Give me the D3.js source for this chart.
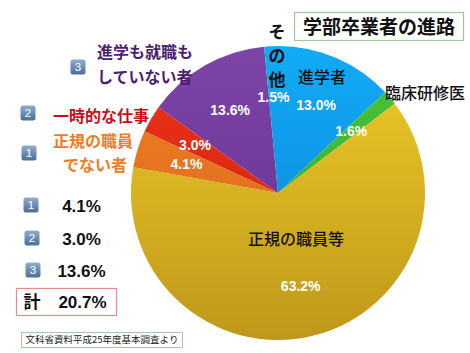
<!DOCTYPE html>
<html>
<head>
<meta charset="utf-8">
<script src="https://cdn.jsdelivr.net/npm/d3@7"></script>
<style>
  html, body { margin: 0; padding: 0; background: #fff; }
  svg { display: block; }
  .jp { font-family: "Noto Sans CJK JP", "Noto Sans", sans-serif; }
  .num { font-family: "Liberation Sans", Arial, sans-serif; font-weight: bold; }
</style>
</head>
<body>
<svg id="chart"></svg>
<script>
// slices clockwise from 12 o'clock
const categories = ["進学者", "臨床研修医", "正規の職員等", "正規の職員でない者", "一時的な仕事", "進学も就職もしていない者", "その他"];
const values = [13.0, 1.6, 63.2, 4.1, 3.0, 13.6, 1.5];
const percentLabels = ["13.0%", "1.6%", "63.2%", "4.1%", "3.0%", "13.6%", "1.5%"];
// light (top) / dark (bottom) tone per slice
const topColors = ["#12abf6", "#4cc63c", "#eecd28", "#ef8224", "#ee3416", "#7d45a8", "#12abf6"];
const bottomColors = ["#0a7ed6", "#2f9e2a", "#bf981a", "#d7621a", "#cc1e10", "#622c8e", "#0a7ed6"];

// breakdown list on the left
const listBadges = ["1", "2", "3"];
const listValues = ["4.1%", "3.0%", "13.6%"];
const totalLabel = "20.7%";

const width = 470, height = 353;
const cx = 278, cy = 193, radius = 147;

const svg = d3.select("#chart").attr("width", width).attr("height", height);
const defs = svg.append("defs");

// vertical shading, in the pie group's coordinates
topColors.forEach((c, i) => {
  const g = defs.append("linearGradient")
    .attr("id", "grad" + i)
    .attr("gradientUnits", "userSpaceOnUse")
    .attr("x1", 0).attr("y1", -radius)
    .attr("x2", 0).attr("y2", radius);
  g.append("stop").attr("offset", "0%").attr("stop-color", c);
  g.append("stop").attr("offset", "100%").attr("stop-color", bottomColors[i]);
});

const badgeGrad = defs.append("linearGradient").attr("id", "badgeGrad")
  .attr("x1", 0).attr("y1", 0).attr("x2", 0).attr("y2", 1);
badgeGrad.append("stop").attr("offset", "0%").attr("stop-color", "#8eaed0");
badgeGrad.append("stop").attr("offset", "100%").attr("stop-color", "#4b6e98");

const pie = d3.pie().value(d => d).sort(null);
const arc = d3.arc().innerRadius(0).outerRadius(radius);
const labelArc = d3.arc().innerRadius(96).outerRadius(96);

const g = svg.append("g").attr("transform", `translate(${cx},${cy})`);
const arcs = pie(values);

g.selectAll("path.slice")
  .data(arcs)
  .enter()
  .append("path")
  .attr("class", "slice")
  .attr("d", arc)
  .attr("fill", (d, i) => `url(#grad${i})`);

g.selectAll("text.pct")
  .data(arcs)
  .enter()
  .append("text")
  .attr("class", "num")
  .attr("x", d => labelArc.centroid(d)[0])
  .attr("y", d => labelArc.centroid(d)[1])
  .attr("dy", "0.35em")
  .attr("text-anchor", "middle")
  .attr("fill", "#fff")
  .style("font-size", "14px")
  .text((d, i) => percentLabels[i]);

// category names
const jpText = (x, y, txt, color, size, anchor, weight) =>
  svg.append("text")
    .attr("class", "jp")
    .attr("x", x).attr("y", y)
    .attr("dy", "0.35em")
    .attr("text-anchor", anchor || "start")
    .attr("fill", color)
    .style("font-size", size + "px")
    .style("font-weight", weight || "bold")
    .text(txt);

jpText(322, 77, "進学者", "#111", 16, "middle", 500);
jpText(385, 93, "臨床研修医", "#111", 16, "start", 500);
jpText(296, 239, "正規の職員等", "#111", 16, "middle", 500);
["そ", "の", "他"].forEach((c, i) => jpText(277, 32 + i * 24, c, "#111", 17, "middle", "bold"));

// title box
svg.append("rect").attr("x", 294.5).attr("y", 12.5).attr("width", 169).attr("height", 28)
  .attr("fill", "#fff").attr("stroke", "#a6c4a2").attr("stroke-width", 1.2);
jpText(379, 27, "学部卒業者の進路", "#111", 19, "middle", "bold");

// numbered badges
const badge = (x, y, n) => {
  svg.append("rect").attr("x", x - 7.5).attr("y", y - 7.5).attr("width", 15).attr("height", 15)
    .attr("rx", 2.5).attr("fill", "url(#badgeGrad)");
  svg.append("text").attr("class", "num").attr("x", x).attr("y", y).attr("dy", "0.36em")
    .attr("text-anchor", "middle").attr("fill", "#fff").style("font-size", "11.5px")
    .style("font-weight", "normal").text(n);
};

badge(78, 67, "3");
jpText(97, 52, "進学も就職も", "#4a1f6e", 16);
jpText(97, 77, "していない者", "#4a1f6e", 16);
badge(28, 113, "2");
jpText(53, 116, "一時的な仕事", "#c8101c", 16);
badge(29, 153, "1");
jpText(53, 141, "正規の職員", "#f07c1e", 16);
jpText(63, 165, "でない者", "#f07c1e", 16);

// breakdown list
const listY = [206, 239, 271];
listBadges.forEach((b, i) => {
  badge(31 + i, listY[i] - 1, b);
  svg.append("text").attr("class", "num")
    .attr("x", 81.5).attr("y", listY[i]).attr("dy", "0.35em")
    .attr("text-anchor", "middle").attr("fill", "#111")
    .style("font-size", "17px").text(listValues[i]);
});

svg.append("rect").attr("x", 16.5).attr("y", 288.5).attr("width", 100).attr("height", 27)
  .attr("fill", "#fff").attr("stroke", "#e48c90").attr("stroke-width", 1.2);
jpText(32, 302, "計", "#111", 17, "middle", "bold");
svg.append("text").attr("class", "num").attr("x", 82.5).attr("y", 302).attr("dy", "0.35em")
  .attr("text-anchor", "middle").attr("fill", "#111").style("font-size", "17px").text(totalLabel);

// source note
svg.append("rect").attr("x", 21.5).attr("y", 332.5).attr("width", 161).attr("height", 15)
  .attr("fill", "#fff").attr("stroke", "#a6c8a6").attr("stroke-width", 1);
jpText(102, 340, "文科省資料平成25年度基本調査より", "#222", 9.5, "middle", "normal");
</script>
</body>
</html>
